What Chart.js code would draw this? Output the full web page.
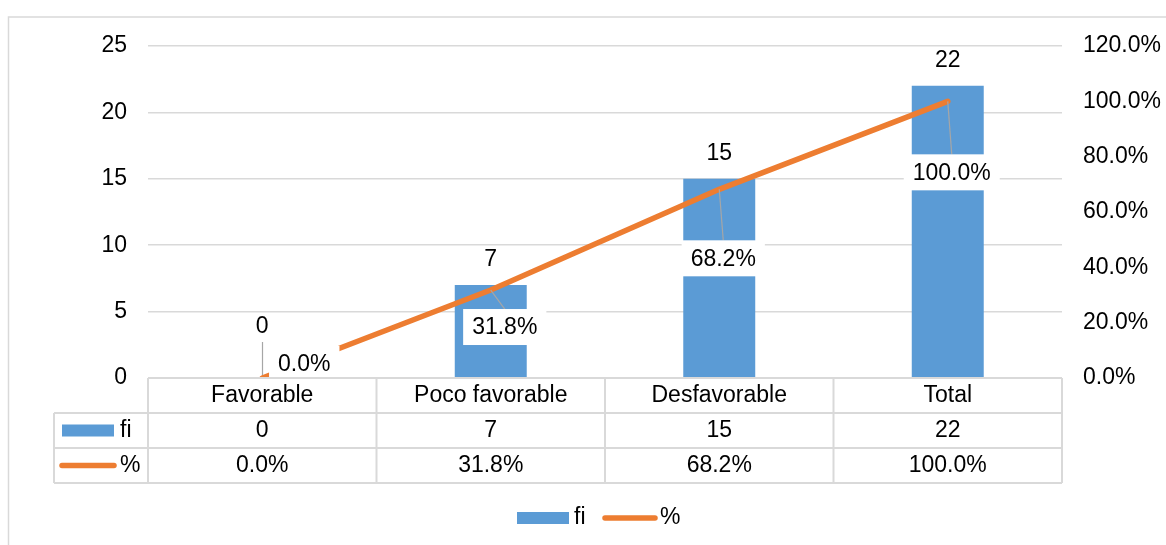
<!DOCTYPE html>
<html><head><meta charset="utf-8">
<script src="https://cdn.jsdelivr.net/npm/chart.js@4.4.1/dist/chart.umd.min.js"></script>
<style>html,body{margin:0;padding:0;background:#fff;overflow:hidden}#wrap{width:1166px;height:545px;position:relative}</style>
</head><body><div id="wrap"><canvas id="c" width="1166" height="545"></canvas></div>
<script>
// ---- data ----
const categories = ['Favorable', 'Poco favorable', 'Desfavorable', 'Total'];
const seriesNames = ['fi', '%'];
const fiValues = [0, 7, 15, 22];
const pctValues = [0, 31.8, 68.2, 100];
const leftTickValues = [0, 5, 10, 15, 20, 25];
const rightTickValues = [0, 20, 40, 60, 80, 100, 120];
const fiText = fiValues.map(v => String(v));
const pctText = pctValues.map(v => v.toFixed(1) + '%');

// ---- styles ----
const FONT_FAMILY = "'Liberation Sans', Arial, sans-serif";
const FONT_SIZE = 23;
const FONT = FONT_SIZE + 'px ' + FONT_FAMILY;
const TEXT = '#000000';
const GRID = '#D9D9D9';
const BAR = '#5B9BD5';
const LINE = '#ED7D31';
const LEADER = '#A6A6A6';
const LINE_W = 5.5;

const overlay = {
  id: 'overlay',
  afterDatasetsDraw(chart, args, opts) {
    const ctx = chart.ctx;
    const barMeta = chart.getDatasetMeta(0), lineMeta = chart.getDatasetMeta(1);
    ctx.save();
    ctx.font = FONT;
    ctx.textAlign = 'center';
    ctx.textBaseline = 'middle';
    barMeta.data.forEach((bar, i) => {
      const lift = opts.barLabelLift[i];
      const x = bar.x, y = bar.y - lift;
      ctx.fillStyle = TEXT;
      ctx.fillText(fiText[i], x, y);
      if (lift > 35) {
        ctx.strokeStyle = LEADER; ctx.lineWidth = 1.2;
        ctx.beginPath();
        ctx.moveTo(Math.round(x) + 0.5, y + 15);
        ctx.lineTo(Math.round(x) + 0.5, bar.y - 3);
        ctx.stroke();
      }
    });
    lineMeta.data.forEach((pt, i) => {
      const [dx, dy] = opts.lineLabelOffset[i];
      const cx = pt.x + dx, cy = pt.y + dy;
      const w = ctx.measureText(pctText[i]).width + 18, h = 36;
      const bx = cx - w / 2, by = cy - h / 2;
      if (pt.y < by - 4) {
        ctx.strokeStyle = LEADER; ctx.lineWidth = 1.2;
        ctx.beginPath();
        ctx.moveTo(pt.x, pt.y);
        ctx.lineTo(cx, by);
        ctx.stroke();
      }
      ctx.fillStyle = '#ffffff';
      ctx.fillRect(bx, by, w, h);
      ctx.fillStyle = TEXT;
      ctx.fillText(pctText[i], cx, cy + 1);
    });
    ctx.restore();
  },
  afterDraw(chart) {
    const ctx = chart.ctx;
    const ca = chart.chartArea;
    const x = chart.scales.x;
    const n = categories.length;
    const colW = (ca.right - ca.left) / n;
    const rowH = 35;
    const top = ca.bottom;
    const r1 = top + rowH, r2 = top + 2 * rowH, r3 = top + 3 * rowH;
    const keyLeft = 54;
    ctx.save();
    // outer chart border
    ctx.strokeStyle = GRID; ctx.lineWidth = 1.5;
    ctx.strokeRect(8.5, 17, 1175, 545);
    // table lines
    ctx.strokeStyle = GRID; ctx.lineWidth = 2;
    ctx.beginPath();
    ctx.moveTo(ca.left, top); ctx.lineTo(ca.right, top);
    [r1, r2, r3].forEach(y => { ctx.moveTo(keyLeft, y); ctx.lineTo(ca.right, y); });
    for (let k = 0; k <= n; k++) {
      const xx = ca.left + k * colW;
      ctx.moveTo(xx, top); ctx.lineTo(xx, r3);
    }
    ctx.moveTo(keyLeft, r1); ctx.lineTo(keyLeft, r3);
    ctx.stroke();
    // texts
    ctx.font = FONT; ctx.fillStyle = TEXT;
    ctx.textAlign = 'center'; ctx.textBaseline = 'middle';
    categories.forEach((c, i) => {
      const cx = x.getPixelForValue(i);
      ctx.fillText(c, cx, (top + r1) / 2);
      ctx.fillText(fiText[i], cx, (r1 + r2) / 2);
      ctx.fillText(pctText[i], cx, (r2 + r3) / 2);
    });
    // keys in table
    const m1 = (r1 + r2) / 2, m2 = (r2 + r3) / 2;
    ctx.fillStyle = BAR;
    ctx.fillRect(62, m1 - 6, 52, 12);
    ctx.strokeStyle = LINE; ctx.lineWidth = LINE_W; ctx.lineCap = 'round';
    ctx.beginPath(); ctx.moveTo(62, m2); ctx.lineTo(114, m2); ctx.stroke();
    ctx.fillStyle = TEXT; ctx.textAlign = 'left';
    ctx.fillText(seriesNames[0], 120, m1);
    ctx.fillText(seriesNames[1], 120, m2);
    // bottom legend
    const ly = 518;
    ctx.fillStyle = BAR;
    ctx.fillRect(517, ly - 6, 52, 12);
    ctx.fillStyle = TEXT;
    ctx.fillText(seriesNames[0], 574, ly);
    ctx.strokeStyle = LINE; ctx.lineWidth = LINE_W; ctx.lineCap = 'round';
    ctx.beginPath(); ctx.moveTo(605, ly); ctx.lineTo(655, ly); ctx.stroke();
    ctx.fillStyle = TEXT;
    ctx.fillText(seriesNames[1], 660, ly);
    ctx.restore();
  }
};

new Chart(document.getElementById('c'), {
  data: {
    labels: categories,
    datasets: [
      { type: 'bar', label: seriesNames[0], data: fiValues, backgroundColor: BAR,
        yAxisID: 'y', order: 1, categoryPercentage: 1, barPercentage: 0.315 },
      { type: 'line', label: seriesNames[1], data: pctValues, borderColor: LINE,
        borderWidth: LINE_W, pointRadius: 0, tension: 0, yAxisID: 'y1', order: 0,
        borderCapStyle: 'round', borderJoinStyle: 'round' }
    ]
  },
  options: {
    responsive: false,
    animation: false,
    devicePixelRatio: 1,
    layout: { padding: { top: 46, bottom: 167, left: 0, right: 0 } },
    plugins: {
      legend: { display: false },
      tooltip: { enabled: false },
      overlay: {
        barLabelLift: [51, 25, 25, 25],
        lineLabelOffset: [[42, -14], [14, 37], [4, 69], [4, 71]]
      }
    },
    scales: {
      x: { type: 'category', display: false, offset: true },
      y: {
        type: 'linear', position: 'left', min: 0, max: 25,
        afterBuildTicks: s => { s.ticks = leftTickValues.map(v => ({ value: v })); },
        afterFit: s => { s.width = 148; },
        grid: { color: GRID, lineWidth: 1.5, drawTicks: false },
        border: { display: false },
        ticks: { padding: 21, color: TEXT, font: { family: FONT_FAMILY, size: FONT_SIZE } }
      },
      y1: {
        type: 'linear', position: 'right', min: 0, max: 120,
        afterBuildTicks: s => { s.ticks = rightTickValues.map(v => ({ value: v })); },
        afterFit: s => { s.width = 104; },
        grid: { display: false, drawTicks: false },
        border: { display: false },
        ticks: { padding: 21, color: TEXT, font: { family: FONT_FAMILY, size: FONT_SIZE },
          callback: v => v.toFixed(1) + '%' }
      }
    }
  },
  plugins: [overlay]
});
</script>
</body></html>
